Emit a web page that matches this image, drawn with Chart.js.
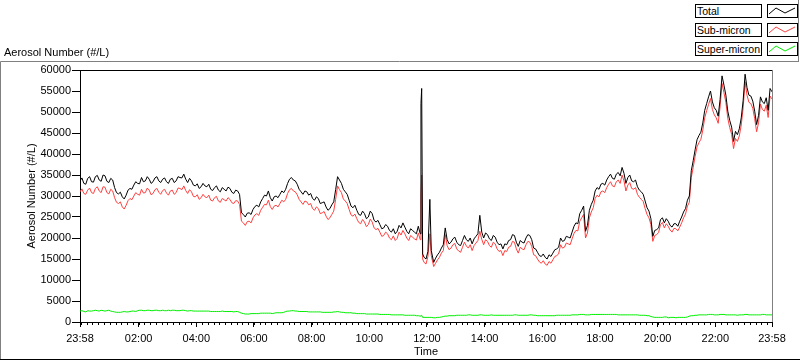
<!DOCTYPE html>
<html>
<head>
<meta charset="utf-8">
<script src="https://cdn.jsdelivr.net/npm/chart.js@4.4.0/dist/chart.umd.min.js"></script>
<style>
  html, body { margin: 0; padding: 0; background: #fff; }
  #wrap { position: relative; width: 800px; height: 361px; font-family: "Liberation Sans", Arial, sans-serif; font-size: 11px; color: #000; }
  #chart { position: absolute; left: 0; top: 0; }
  .ylab { position: absolute; left: 4px; top: 46px; white-space: nowrap; }
  .lgtext { position: absolute; left: 695px; width: 64px; height: 12px; border: 1px solid #000; line-height: 12px; padding-left: 1px; white-space: nowrap; background: #fff; font-size: 10.5px; }
  .lgsw { position: absolute; left: 767px; width: 29px; height: 12px; border: 1px solid #000; background: #fff; }
  .lgsw svg { position: absolute; left: 0; top: 0; }
</style>
</head>
<body>
<div id="wrap">
  <canvas id="chart" width="800" height="361"></canvas>
  <div class="ylab">Aerosol Number (#/L)</div>
  <div id="legend"></div>
</div>
<script>
// minutes after 23:58
const times = [
  0, 4, 8, 12, 16, 20, 24, 28, 32, 36, 40, 44, 48, 52, 56, 60, 64, 68, 72, 76,
  80, 84, 88, 92, 96, 100, 104, 108, 112, 116, 120, 124, 128, 132, 136, 140, 144, 148, 152, 156,
  160, 164, 168, 172, 176, 180, 184, 188, 192, 196, 200, 204, 208, 212, 216, 220, 224, 228, 232, 236,
  240, 244, 248, 252, 256, 260, 264, 268, 272, 276, 280, 284, 288, 292, 296, 300, 304, 308, 312, 316,
  320, 324, 328, 332, 336, 340, 344, 348, 352, 356, 360, 364, 368, 372, 376, 380, 384, 388, 392, 396,
  400, 404, 408, 412, 416, 420, 424, 428, 432, 436, 440, 444, 448, 452, 456, 460, 464, 468, 472, 476,
  480, 484, 488, 492, 496, 500, 504, 508, 512, 516, 520, 524, 528, 532, 536, 540, 544, 548, 552, 556,
  560, 564, 568, 572, 576, 580, 584, 588, 592, 596, 600, 604, 608, 612, 616, 620, 624, 628, 632, 636,
  640, 644, 648, 652, 656, 660, 664, 668, 672, 676, 680, 684, 688, 692, 696, 700, 704,
  708, 709.5, 711, 713, 716, 720, 724, 728, 731,
  736, 740, 744, 748, 752, 756, 760, 764, 768, 772, 776, 780, 784, 788, 792, 796, 800, 804, 808, 812,
  816, 820, 824, 828, 832, 836, 840, 844, 848, 852, 856, 860, 864, 868, 872, 876, 880, 884, 888, 892,
  896, 900, 904, 908, 912, 916, 920, 924, 928, 932, 936, 940, 944, 948, 952, 956, 960, 964, 968, 972,
  976, 980, 984, 988, 992, 996, 1000, 1004, 1008, 1012, 1016, 1020, 1024, 1028, 1032, 1036, 1040, 1044, 1048, 1052,
  1056, 1060, 1064, 1068, 1072, 1076, 1080, 1084, 1088, 1092, 1096, 1100, 1104, 1108, 1112, 1116, 1120, 1124, 1128, 1132,
  1136, 1140, 1144, 1148, 1152, 1156, 1160, 1164, 1168, 1172, 1176, 1180, 1184, 1188, 1192, 1196, 1200, 1204, 1208, 1212,
  1216, 1220, 1224, 1228, 1232, 1236, 1240, 1244, 1248, 1252, 1256, 1260, 1264, 1268, 1272, 1276, 1280, 1284, 1288, 1292,
  1296, 1300, 1304, 1308, 1312, 1316, 1320, 1324, 1328, 1332, 1336, 1340, 1344, 1348, 1352, 1356, 1360, 1364, 1368, 1372,
  1376, 1380, 1384, 1388, 1392, 1396, 1400, 1404, 1408, 1412, 1416, 1420, 1424, 1428, 1432, 1436, 1440
];

const totalVals = [
  33600, 34300, 33000, 32800, 34200, 34600, 33400, 33300, 34600, 34900, 33800, 33500, 35000, 34800, 33500, 33200, 34200, 33800, 32000, 30800,
  30500, 30900, 29800, 29300, 30200, 31400, 31800, 31600, 32600, 33400, 33000, 32900, 34400, 33400, 33600, 34600, 34000, 33000, 33400, 34300,
  34600, 33600, 33200, 34000, 34300, 33400, 33000, 34000, 34200, 33200, 33600, 34600, 34400, 34300, 35200, 34000, 33200, 34200, 33600, 32600,
  32400, 32900, 31800, 32200, 33000, 32400, 32200, 32800, 31600, 31300, 32000, 32400, 31400, 31000, 32000, 31600, 31200, 32100, 31800, 30900,
  30600, 31400, 31200, 30400, 26000, 25600, 25000, 25900, 26000, 25600, 26800, 27500, 27800, 27400, 28600, 29400, 30200, 30000, 31200, 29600,
  28800, 29800, 30000, 29600, 30400, 31200, 30800, 31600, 33000, 34000, 34400, 33800, 33600, 32800, 31600, 31000, 30400, 31200, 31000, 30200,
  30600, 29400, 29000, 29800, 29400, 28200, 28400, 28600, 27400, 26600, 27000, 27900, 28600, 31500, 34600, 33800, 33000, 31600, 31000, 30400,
  29000, 27600, 27200, 27800, 26600, 25600, 25400, 26400, 25800, 24600, 25000, 26400, 25800, 24200, 23800, 24200, 23200, 22200, 22400, 23200,
  22800, 21800, 21400, 22200, 21000, 21600, 23000, 22400, 23600, 22600, 21600, 21000, 22200, 21800, 21400, 21000, 22800,
  21000, 52000, 55600, 16200, 15400, 15000, 16800, 29200, 17000,
  14200, 15200, 16000, 16600, 17600, 18400, 22400, 19600, 18600, 19000, 19800, 20200, 19000, 18400, 18200, 19400, 20600, 19600, 19200, 20000,
  18600, 19800, 20400, 21000, 25400, 21400, 20000, 21200, 20800, 19800, 19400, 20600, 20200, 19000, 18400, 18600, 17400, 18600, 18400, 19400,
  19600, 20800, 20600, 19000, 18000, 19400, 19000, 18800, 20000, 20800, 20600, 19600, 17600, 17400, 16600, 15800, 15600, 16200, 15400, 15000,
  16000, 15600, 16400, 17200, 17400, 17800, 20000, 19200, 19400, 20400, 20200, 20000, 21400, 22800, 23600, 23400, 25800, 26600, 27600, 21600,
  23000, 26600, 28000, 29000, 31200, 32000, 31600, 32800, 33000, 32600, 33800, 34600, 35200, 34200, 34000, 35200, 35600, 34800, 36800, 35400,
  33000, 34400, 35000, 33600, 33400, 33800, 32200, 31400, 31000, 30400, 28800, 27200, 26400, 24600, 20400, 21800, 22000, 22400, 24400, 24800,
  23600, 24600, 24000, 23000, 22600, 23400, 23400, 22800, 24000, 25000, 26200, 27000, 29000, 30000, 36000, 38400, 41000, 43400, 44400, 45200,
  47400, 50400, 52000, 53600, 55000, 52400, 51000, 50400, 49000, 53000, 58600, 56400, 54000, 50200, 48000, 46400, 43000, 45400, 44600, 46000,
  48600, 52800, 59000, 55800, 54000, 53800, 52600, 50200, 47000, 49200, 53600, 52400, 52000, 53400, 50400, 55600, 54800
];

const subVals = [
  31000, 31700, 30600, 30400, 31400, 31900, 30800, 30600, 31800, 32200, 31200, 30800, 32200, 32100, 30800, 30500, 31600, 31200, 29600, 28500,
  28200, 28600, 27400, 26900, 27800, 28900, 29400, 29100, 30000, 30800, 30400, 30200, 31600, 30700, 30800, 31900, 31400, 30300, 30600, 31500,
  31800, 30900, 30400, 31300, 31600, 30700, 30200, 31200, 31400, 30400, 30800, 31900, 31800, 31500, 32400, 31300, 30600, 31500, 31000, 29900,
  29800, 30300, 29200, 29600, 30400, 29800, 29600, 30200, 29000, 28800, 29600, 29900, 28800, 28500, 29400, 29100, 28800, 29600, 29200, 28400,
  28200, 28900, 28800, 28000, 24000, 23600, 23000, 23900, 24000, 23600, 24800, 25500, 25800, 25400, 26600, 27300, 28000, 27900, 29000, 27500,
  26800, 27600, 27800, 27400, 28200, 29000, 28600, 29200, 30600, 31500, 31800, 31200, 31000, 30300, 29200, 28600, 28000, 28800, 28600, 27900,
  28200, 27000, 26600, 27400, 27000, 25800, 26000, 26300, 25200, 24400, 24800, 25600, 26400, 29200, 32400, 31500, 30800, 29300, 28800, 28200,
  26800, 25500, 25200, 25700, 24600, 23700, 23400, 24400, 23800, 22700, 23200, 24500, 23800, 22400, 22000, 22300, 21400, 20400, 20600, 21400,
  21000, 20000, 19600, 20500, 19400, 19900, 21400, 20700, 21800, 21000, 20000, 19400, 20600, 20200, 19800, 19500, 21200,
  19600, 30000, 35000, 15000, 14200, 13800, 15600, 21000, 15800,
  13200, 14000, 14800, 15400, 16400, 17000, 20800, 18200, 17200, 17600, 18400, 18700, 17400, 16900, 16600, 17800, 19000, 18100, 17600, 18400,
  17000, 18200, 18800, 19400, 21600, 19700, 18400, 19600, 19200, 18200, 17800, 19000, 18600, 17400, 16800, 17000, 15800, 17000, 16800, 17800,
  18000, 19200, 19000, 17400, 16400, 17800, 17400, 17200, 18400, 19200, 19000, 18000, 16000, 15800, 15000, 14300, 14000, 14600, 13800, 13500,
  14400, 14000, 14800, 15600, 15800, 16200, 18400, 17600, 17800, 18800, 18600, 18400, 19800, 21100, 21800, 21700, 24000, 24800, 25600, 20000,
  21200, 24800, 26200, 27200, 29400, 30200, 29800, 31000, 31200, 30800, 32000, 32800, 33400, 32400, 32200, 33400, 33800, 33000, 35000, 33600,
  31200, 32600, 33200, 31800, 31600, 32000, 30400, 29700, 29200, 28700, 27000, 25600, 24800, 23200, 19200, 20600, 20800, 21300, 23200, 23700,
  22400, 23400, 22800, 21900, 21400, 22300, 22200, 21700, 22600, 23600, 24800, 25700, 27600, 28500, 34400, 36800, 39400, 41700, 42700, 43500,
  45700, 48600, 50300, 51800, 53200, 50600, 49300, 48600, 47300, 51200, 56800, 54600, 52300, 48500, 46300, 44700, 41300, 43700, 43000, 44300,
  46900, 51000, 57200, 54000, 52300, 52000, 50900, 48400, 45300, 47400, 51900, 50600, 50200, 51600, 48700, 53800, 53100
];

const superVals = [
  2600, 2700, 2500, 2400, 2700, 2600, 2600, 2700, 2800, 2700, 2600, 2800, 2700, 2600, 2700, 2800, 2600, 2500, 2400, 2300,
  2300, 2300, 2400, 2500, 2400, 2400, 2500, 2600, 2600, 2500, 2700, 2800, 2800, 2700, 2700, 2800, 2800, 2700, 2700, 2800,
  2800, 2700, 2700, 2800, 2700, 2700, 2800, 2700, 2800, 2800, 2700, 2700, 2700, 2800, 2800, 2700, 2600, 2700, 2700, 2600,
  2600, 2600, 2600, 2600, 2600, 2600, 2600, 2600, 2500, 2500, 2500, 2500, 2500, 2500, 2600, 2500, 2500, 2500, 2500, 2500,
  2400, 2500, 2500, 2300, 2100, 2000, 1900, 1900, 1900, 2000, 2000, 2000, 2000, 2000, 2100, 2100, 2100, 2100, 2100, 2100,
  2000, 2100, 2200, 2200, 2200, 2200, 2300, 2500, 2600, 2600, 2700, 2700, 2600, 2600, 2500, 2500, 2500, 2500, 2500, 2400,
  2400, 2400, 2400, 2400, 2400, 2400, 2300, 2300, 2300, 2300, 2300, 2300, 2400, 2400, 2500, 2400, 2300, 2300, 2200, 2200,
  2200, 2200, 2100, 2100, 2000, 2000, 2000, 2000, 2000, 1900, 1900, 1900, 1900, 1900, 1900, 1900, 1800, 1800, 1800, 1800,
  1800, 1800, 1700, 1700, 1700, 1700, 1700, 1700, 1700, 1600, 1600, 1600, 1600, 1600, 1600, 1500, 1500,
  1400, 1500, 1600, 1100, 1100, 1100, 1100, 1100, 1100,
  1000, 1000, 1100, 1100, 1200, 1300, 1400, 1400, 1500, 1500, 1500, 1500, 1600, 1600, 1600, 1600, 1600, 1600, 1700, 1700,
  1600, 1600, 1600, 1600, 1700, 1700, 1600, 1600, 1600, 1600, 1700, 1600, 1600, 1600, 1600, 1600, 1600, 1600, 1600, 1600,
  1600, 1600, 1700, 1700, 1600, 1600, 1600, 1600, 1600, 1600, 1700, 1700, 1600, 1600, 1500, 1500, 1500, 1500, 1500, 1500,
  1500, 1500, 1500, 1500, 1600, 1600, 1600, 1600, 1600, 1600, 1600, 1600, 1700, 1700, 1700, 1700, 1800, 1800, 1800, 1700,
  1700, 1700, 1800, 1800, 1800, 1800, 1800, 1800, 1800, 1800, 1800, 1800, 1800, 1800, 1800, 1800, 1700, 1700, 1700, 1700,
  1700, 1700, 1700, 1700, 1700, 1700, 1700, 1600, 1600, 1600, 1600, 1500, 1500, 1300, 1200, 1100, 1100, 1100, 1100, 1100,
  1200, 1200, 1000, 1100, 1100, 1100, 1000, 1100, 1100, 1100, 1100, 1100, 1200, 1400, 1500, 1500, 1600, 1600, 1700, 1700,
  1700, 1700, 1700, 1800, 1800, 1800, 1700, 1700, 1700, 1800, 1800, 1800, 1700, 1700, 1700, 1700, 1700, 1700, 1600, 1700,
  1700, 1700, 1800, 1800, 1700, 1700, 1700, 1700, 1700, 1700, 1700, 1800, 1800, 1700, 1700, 1700, 1700
];

const seriesNames = ["Total", "Sub-micron", "Super-micron"];
const seriesColors = ["#000000", "#ff4040", "#00f000"];

const xTickMinutes = [0, 122, 242, 362, 482, 602, 722, 842, 962, 1082, 1202, 1322, 1440];
const xTickLabels = ["23:58", "02:00", "04:00", "06:00", "08:00", "10:00", "12:00", "14:00", "16:00", "18:00", "20:00", "22:00", "23:58"];
const xMinorStart = 2, xMinorStep = 12;

const font = { family: "'Liberation Sans', Arial, sans-serif", size: 11 };

function pts(vals) {
  return times.map((t, i) => ({ x: t, y: vals[i] }));
}

// legend boxes (html)
const legend = document.getElementById("legend");
seriesNames.forEach((name, i) => {
  const top = 4 + i * 19;
  const t = document.createElement("div");
  t.className = "lgtext";
  t.style.top = top + "px";
  t.textContent = name;
  legend.appendChild(t);
  const s = document.createElement("div");
  s.className = "lgsw";
  s.style.top = top + "px";
  s.innerHTML = '<svg width="29" height="12"><polyline points="1,9 8,3 17,8 27,3" fill="none" stroke="' + seriesColors[i] + '" stroke-width="1"/></svg>';
  legend.appendChild(s);
});

const framePlugin = {
  id: "frame",
  beforeDraw(chart) {
    const ctx = chart.ctx;
    ctx.save();
    ctx.fillStyle = "#fff";
    ctx.fillRect(0, 0, chart.width, chart.height);
    ctx.restore();
  },
  afterDraw(chart) {
    const { ctx, chartArea: a, scales: { x } } = chart;
    ctx.save();
    ctx.lineWidth = 1;
    // plot box top + right
    ctx.strokeStyle = "#000";
    ctx.beginPath();
    ctx.moveTo(a.left, a.top + 0.5);
    ctx.lineTo(a.right, a.top + 0.5);
    ctx.stroke();
    ctx.strokeStyle = "#808080";
    ctx.beginPath();
    ctx.moveTo(a.right + 0.5, a.top);
    ctx.lineTo(a.right + 0.5, a.bottom);
    ctx.stroke();
    // minor ticks on time axis
    ctx.strokeStyle = "#000";
    ctx.beginPath();
    for (let m = xMinorStart; m < 1440; m += xMinorStep) {
      const px = Math.round(x.getPixelForValue(m)) + 0.5;
      ctx.moveTo(px, a.bottom);
      ctx.lineTo(px, a.bottom + 3);
    }
    ctx.stroke();
    // outer frame
    ctx.strokeStyle = "#808080";
    ctx.beginPath();
    ctx.moveTo(0.5, 359);
    ctx.lineTo(0.5, 61.5);
    ctx.lineTo(798, 61.5);
    ctx.moveTo(798.5, 0);
    ctx.lineTo(798.5, 62);
    ctx.stroke();
    ctx.strokeStyle = "#000";
    ctx.beginPath();
    ctx.moveTo(0, 359.5);
    ctx.lineTo(800, 359.5);
    ctx.stroke();
    ctx.restore();
  }
};

new Chart(document.getElementById("chart"), {
  type: "line",
  data: {
    datasets: [
      { label: seriesNames[0], data: pts(totalVals), borderColor: seriesColors[0] },
      { label: seriesNames[1], data: pts(subVals), borderColor: seriesColors[1] },
      { label: seriesNames[2], data: pts(superVals), borderColor: seriesColors[2] }
    ]
  },
  options: {
    responsive: false,
    animation: false,
    devicePixelRatio: 1,
    layout: { padding: { left: 0, top: 70, right: 28, bottom: 0 } },
    elements: {
      line: { borderWidth: 1, tension: 0 },
      point: { radius: 0, hoverRadius: 0 }
    },
    plugins: { legend: { display: false }, tooltip: { enabled: false } },
    scales: {
      x: {
        type: "linear",
        min: 0,
        max: 1440,
        afterBuildTicks: s => { s.ticks = xTickMinutes.map(v => ({ value: v })); },
        afterFit: s => { s.height = 39; },
        ticks: { autoSkip: false, maxRotation: 0, padding: 5, color: "#000", font, callback: (v, i) => xTickLabels[i] },
        grid: { drawOnChartArea: false, drawTicks: true, tickLength: 5, color: "#000" },
        border: { color: "#000" },
        title: { display: true, text: "Time", color: "#000", font, padding: { top: 0, bottom: 2 } }
      },
      y: {
        min: 0,
        max: 60000,
        afterFit: s => { s.width = 80; },
        ticks: { stepSize: 5000, padding: 1, color: "#000", font, callback: v => String(v) },
        grid: { drawOnChartArea: false, drawTicks: true, tickLength: 8, color: "#000" },
        border: { color: "#000" },
        title: { display: true, text: "Aerosol Number (#/L)", color: "#000", font, padding: { top: 25, bottom: 0 } }
      }
    }
  },
  plugins: [framePlugin]
});
</script>
</body>
</html>
